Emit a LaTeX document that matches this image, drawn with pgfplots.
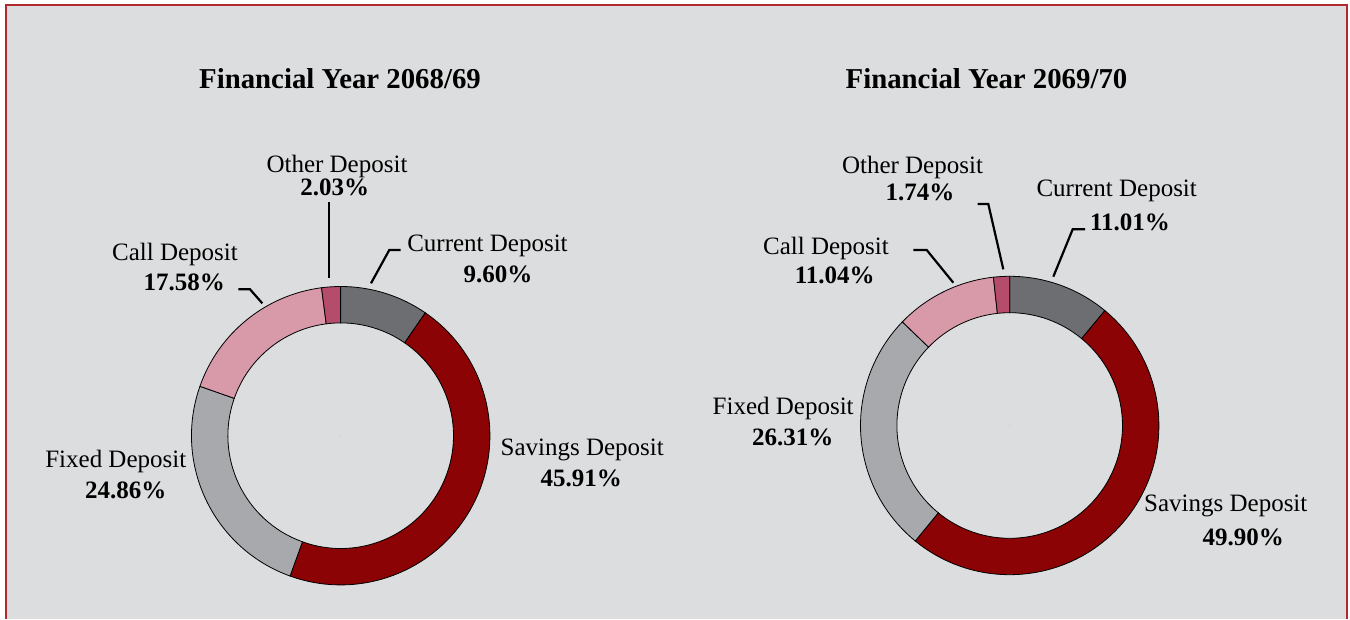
\documentclass[border=0pt]{standalone}
\usepackage{pgfplots}
\pgfplotsset{compat=1.18}
\usepackage{pgfplotstable}
\usepackage{fontspec}
\setmainfont{Liberation Serif}
\definecolor{bg}{HTML}{DCDDDE}
\definecolor{frame}{HTML}{B02A30}
\definecolor{cCur}{HTML}{6D6E71}
\definecolor{cSav}{HTML}{8B0304}
\definecolor{cFix}{HTML}{A7A9AC}
\definecolor{cCall}{HTML}{D899A9}
\definecolor{cOth}{HTML}{B54C6B}
\newcommand\lbl{\fontsize{12.5pt}{15pt}\selectfont}
\newcommand\ttl{\fontsize{14.4pt}{17pt}\selectfont\bfseries}

% Financial Year 2068/69 : start (cumulative %), value (%)
\pgfplotstableread{
cx cy start value idx
340.7 435.7 0.00 9.60 0
340.7 435.7 9.60 45.91 1
340.7 435.7 55.51 24.86 2
340.7 435.7 80.37 17.58 3
340.7 435.7 97.95 2.03 4
}\donutA
% Financial Year 2069/70
\pgfplotstableread{
cx cy start value idx
1009.7 425.5 0.00 11.01 0
1009.7 425.5 11.01 49.90 1
1009.7 425.5 60.91 26.31 2
1009.7 425.5 87.22 11.04 3
1009.7 425.5 98.26 1.74 4
}\donutB

\pgfplotsset{donut/.style={
  scatter, only marks, mark=*, mark size=0pt,
  mark options={draw=none,fill=none},
  visualization depends on={\thisrow{start} \as \st},
  visualization depends on={\thisrow{value} \as \val},
  visualization depends on={\thisrow{idx} \as \idx},
  scatter/@pre marker code/.code={%
    \pgfmathsetmacro\aS{90-3.6*\st}%
    \pgfmathsetmacro\aE{90-3.6*(\st+\val)}%
    \pgfmathtruncatemacro\ii{round(\idx)}%
    \ifcase\ii\relax\def\scol{cCur}\or\def\scol{cSav}\or\def\scol{cFix}\or\def\scol{cCall}\or\def\scol{cOth}\fi
    \fill[fill=\scol, fill opacity=1] (\aS:74.6pt) arc[start angle=\aS, end angle=\aE, radius=74.6pt]
      -- (\aE:56.4pt) arc[start angle=\aE, end angle=\aS, radius=56.4pt] -- cycle;
  },
  scatter/@post marker code/.code={},
}}

\begin{document}
\begin{tikzpicture}
\fill[white] (0,0) rectangle (675pt,309.5pt);
\fill[bg] (3pt,0) rectangle (673.5pt,307pt);
\draw[frame, line width=0.8pt] (3pt,0) -- (3pt,307pt) -- (673.5pt,307pt) -- (673.5pt,0);
\begin{axis}[at={(0,0)}, anchor=south west,
  width=675pt, height=309.5pt, scale only axis,
  xmin=0, xmax=1350, ymin=0, ymax=619, y dir=reverse,
  hide axis, clip=false]
\addplot[donut] table[x=cx, y=cy] {\donutA};
\addplot[donut] table[x=cx, y=cy] {\donutB};

% titles
\node[anchor=base, font=\ttl] at (axis cs:340,88.3) {Financial Year 2068/69};
\node[anchor=base, font=\ttl] at (axis cs:986.5,88.3) {Financial Year 2069/70};

% chart 1 labels
\node[anchor=base, font=\lbl] at (axis cs:337,173) {Other Deposit};
\node[anchor=base, font=\lbl\bfseries] at (axis cs:334.7,196) {2.03\%};
\node[anchor=base, font=\lbl] at (axis cs:487.5,251.5) {Current Deposit};
\node[anchor=base, font=\lbl\bfseries] at (axis cs:498,283) {9.60\%};
\node[anchor=base, font=\lbl] at (axis cs:175,260.7) {Call Deposit};
\node[anchor=base, font=\lbl\bfseries] at (axis cs:184.3,291) {17.58\%};
\node[anchor=base, font=\lbl] at (axis cs:115.8,467.3) {Fixed Deposit};
\node[anchor=base, font=\lbl\bfseries] at (axis cs:125.7,498.3) {24.86\%};
\node[anchor=base, font=\lbl] at (axis cs:582.2,455) {Savings Deposit};
\node[anchor=base, font=\lbl\bfseries] at (axis cs:581.3,486) {45.91\%};
\draw[line width=1.1pt] (axis cs:329,202) -- (axis cs:329,278);
\draw[line width=1.1pt] (axis cs:371,283.3) -- (axis cs:389.3,250) -- (axis cs:400.7,250);
\draw[line width=1.1pt] (axis cs:262.3,303.3) -- (axis cs:250,289.3) -- (axis cs:238.3,289.3);

% chart 2 labels
\node[anchor=base, font=\lbl] at (axis cs:912.5,173.3) {Other Deposit};
\node[anchor=base, font=\lbl\bfseries] at (axis cs:920,200.7) {1.74\%};
\node[anchor=base, font=\lbl] at (axis cs:1116.7,196.7) {Current Deposit};
\node[anchor=base, font=\lbl\bfseries] at (axis cs:1130,230.7) {11.01\%};
\node[anchor=base, font=\lbl] at (axis cs:826,255) {Call Deposit};
\node[anchor=base, font=\lbl\bfseries] at (axis cs:834.7,283.3) {11.04\%};
\node[anchor=base, font=\lbl] at (axis cs:783.2,415) {Fixed Deposit};
\node[anchor=base, font=\lbl\bfseries] at (axis cs:792.8,445) {26.31\%};
\node[anchor=base, font=\lbl] at (axis cs:1225.8,511.7) {Savings Deposit};
\node[anchor=base, font=\lbl\bfseries] at (axis cs:1243.3,545) {49.90\%};
\draw[line width=1.1pt] (axis cs:977.7,204) -- (axis cs:988.3,204) -- (axis cs:1003.3,269.3);
\draw[line width=1.1pt] (axis cs:1053.3,276.7) -- (axis cs:1072.7,229.3) -- (axis cs:1085,229.3);
\draw[line width=1.1pt] (axis cs:953.3,282.7) -- (axis cs:926.7,250) -- (axis cs:913.3,250);
\end{axis}
\end{tikzpicture}
\end{document}
